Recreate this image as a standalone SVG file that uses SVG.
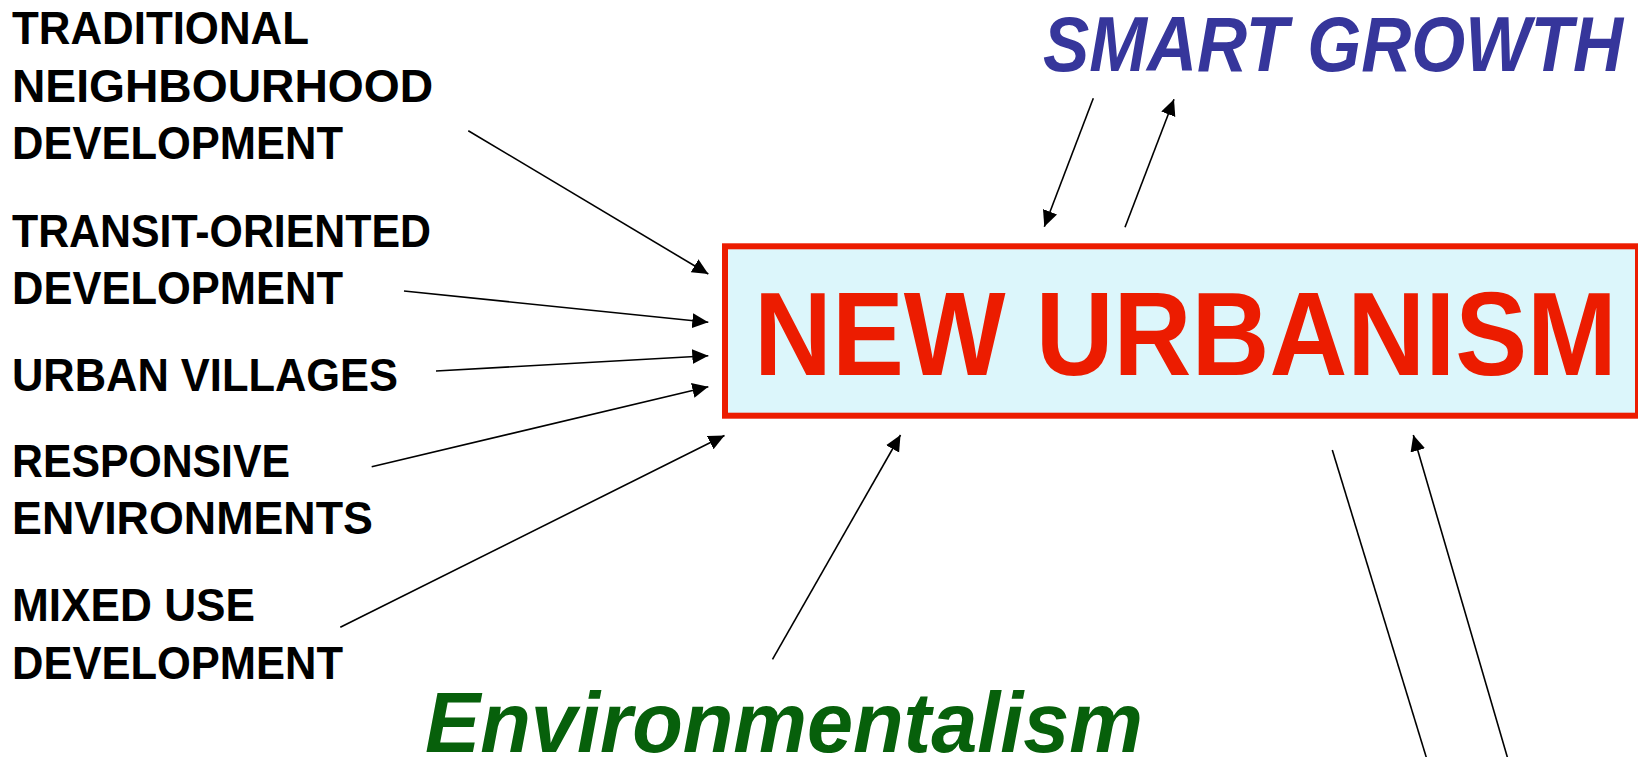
<svg xmlns="http://www.w3.org/2000/svg" width="1638" height="757" viewBox="0 0 1638 757">
  <style>
    .lbl { font-family: "Liberation Sans", Arial, sans-serif; font-weight: bold; font-size: 46px; fill: #000; }
    .core { font-family: "Liberation Sans", Arial, sans-serif; font-weight: bold; font-size: 119px; fill: #ec1c00; }
    .smart { font-family: "Liberation Sans", Arial, sans-serif; font-weight: bold; font-style: italic; font-size: 77px; fill: #36369b; }
    .env { font-family: "Liberation Sans", Arial, sans-serif; font-weight: bold; font-style: italic; font-size: 85px; fill: #07600b; }
    .conn line { stroke: #000; stroke-width: 1.6; fill: none; }
  </style>
  <defs>
    <marker id="arrow" markerUnits="userSpaceOnUse" markerWidth="17" markerHeight="16" refX="16" refY="7.5" orient="auto">
      <path d="M0,0 L16,7.5 L0,15 z" fill="#000"/>
    </marker>
  </defs>
  <rect width="1638" height="757" fill="#fff"/>

  <!-- central concept -->
  <g id="new-urbanism">
    <rect x="725" y="246.3" width="913" height="169.4" fill="#dcf6fb" stroke="#ec1c00" stroke-width="6"/>
    <text class="core" x="754" y="375" textLength="863" lengthAdjust="spacingAndGlyphs">NEW URBANISM</text>
  </g>

  <g id="smart-growth">
    <text class="smart" x="1043" y="71" textLength="580" lengthAdjust="spacingAndGlyphs">SMART GROWTH</text>
  </g>

  <g id="environmentalism">
    <text class="env" x="425" y="752" textLength="718" lengthAdjust="spacingAndGlyphs">Environmentalism</text>
  </g>

  <!-- contributing movements -->
  <g id="tnd">
    <text class="lbl" x="12" y="44" textLength="297" lengthAdjust="spacingAndGlyphs">TRADITIONAL</text>
    <text class="lbl" x="12" y="101.5" textLength="421" lengthAdjust="spacingAndGlyphs">NEIGHBOURHOOD</text>
    <text class="lbl" x="12" y="158.5" textLength="331" lengthAdjust="spacingAndGlyphs">DEVELOPMENT</text>
  </g>
  <g id="tod">
    <text class="lbl" x="12" y="246.5" textLength="419" lengthAdjust="spacingAndGlyphs">TRANSIT-ORIENTED</text>
    <text class="lbl" x="12" y="304" textLength="331" lengthAdjust="spacingAndGlyphs">DEVELOPMENT</text>
  </g>
  <g id="urban-villages">
    <text class="lbl" x="12" y="391" textLength="386" lengthAdjust="spacingAndGlyphs">URBAN VILLAGES</text>
  </g>
  <g id="responsive-environments">
    <text class="lbl" x="12" y="476.5" textLength="278" lengthAdjust="spacingAndGlyphs">RESPONSIVE</text>
    <text class="lbl" x="12" y="534" textLength="361" lengthAdjust="spacingAndGlyphs">ENVIRONMENTS</text>
  </g>
  <g id="mixed-use">
    <text class="lbl" x="12" y="620.5" textLength="243" lengthAdjust="spacingAndGlyphs">MIXED USE</text>
    <text class="lbl" x="12" y="678.5" textLength="331" lengthAdjust="spacingAndGlyphs">DEVELOPMENT</text>
  </g>

  <!-- connectors -->
  <g id="connectors" class="conn">
    <line x1="468.3" y1="130.7" x2="708.3" y2="274" marker-end="url(#arrow)"/>
    <line x1="404" y1="291" x2="708.3" y2="322.3" marker-end="url(#arrow)"/>
    <line x1="436" y1="371" x2="708.3" y2="355.7" marker-end="url(#arrow)"/>
    <line x1="371.7" y1="466.7" x2="708.3" y2="386.7" marker-end="url(#arrow)"/>
    <line x1="340.3" y1="627.3" x2="724.5" y2="435.5" marker-end="url(#arrow)"/>
    <line x1="772.5" y1="659.3" x2="900.5" y2="435" marker-end="url(#arrow)"/>
    <line x1="1093.3" y1="98.3" x2="1044.3" y2="226.7" marker-end="url(#arrow)"/>
    <line x1="1125" y1="227.3" x2="1174" y2="99.3" marker-end="url(#arrow)"/>
    <line x1="1332.3" y1="450" x2="1426.5" y2="758"/>
    <line x1="1507.6" y1="758" x2="1413.3" y2="435" marker-end="url(#arrow)"/>
  </g>
</svg>
